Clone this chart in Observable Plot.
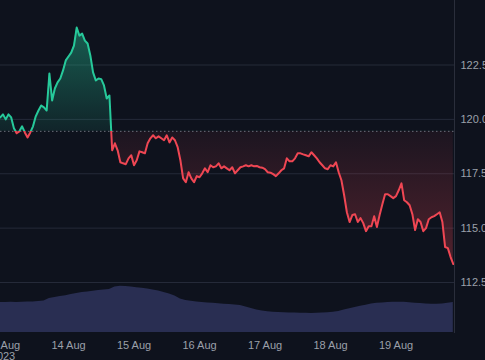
<!DOCTYPE html>
<html><head><meta charset="utf-8">
<script src="https://cdn.jsdelivr.net/npm/d3@7"></script>
<script src="https://cdn.jsdelivr.net/npm/@observablehq/plot@0.6"></script>
<style>
html,body{margin:0;padding:0;background:#0e121d;}
#chart{position:relative;width:485px;height:360px;overflow:hidden;background:#0e121d;}
#chart svg{position:absolute;left:0;top:0;}
</style></head><body><div id="chart"></div>
<script>
// hourly prices starting at priceStart
const priceStart = "2023-08-12T23:00:00Z";
const prices = [
120.09,120.23,120.00,120.23,120.09,119.59,119.36,119.45,119.68,119.40,
119.17,119.40,119.68,120.14,120.41,120.64,120.55,120.41,122.11,120.87,
121.42,121.70,121.88,122.25,122.71,122.89,123.07,123.39,124.22,123.85,
123.94,123.62,123.49,122.94,122.16,121.79,121.88,121.85,121.56,120.96,
121.10,118.58,118.90,118.58,118.03,117.98,117.94,118.21,118.35,117.89,
118.12,118.53,118.49,118.44,118.90,119.13,119.27,119.13,119.22,119.13,
119.04,119.27,118.94,119.17,119.04,118.72,118.12,117.29,117.11,117.57,
117.29,117.11,117.39,117.34,117.52,117.75,117.57,117.89,117.80,117.84,
117.98,117.75,117.84,117.75,117.66,117.80,117.52,117.66,117.80,117.84,
117.89,117.84,117.89,117.84,117.86,117.80,117.78,117.71,117.57,117.55,
117.48,117.39,117.52,117.66,117.75,118.21,118.07,118.07,118.21,118.44,
118.44,118.39,118.35,118.30,118.49,118.35,118.21,118.03,117.89,117.75,
117.71,117.89,117.84,118.03,117.57,117.20,116.51,115.73,115.28,115.60,
115.64,115.28,115.46,115.23,114.86,115.09,115.09,115.55,115.05,115.60,
116.10,116.56,116.56,116.47,116.38,116.47,116.74,117.06,116.28,116.19,
116.05,115.64,114.91,115.41,115.28,114.86,115.00,115.41,115.50,115.55,
115.64,115.73,115.28,114.13,114.08,113.67,113.35
];
// volume every 2 hours starting at volumeStart
const volumeStart = "2023-08-12T23:00:00Z";
const volumes = [
30,30,30.2,30,30.3,30.5,30.6,31,31.5,34,
35,36,36.8,38,39,40,40.6,41.3,42,42.4,
43,45.5,46.2,46,45.4,44.8,44.2,43.5,42.6,41.5,
40,38.5,36.5,33.5,32,31.3,30.5,30,29.6,29.2,
28.8,28.3,28,27.6,27,25.5,24,22.5,21.5,20.8,
20.3,20,19.8,19.6,19.5,19.3,19.2,19,19.2,19.5,
19.8,20.2,21,22.5,23.8,25,26.2,27.3,28.4,29.2,
29.6,29.9,30.2,30.3,30.2,29.8,29.3,28.9,28.5,28.2,
28.3,28.5,29.3,30
];
const baseline = 119.45;
const yTicks = [112.5, 115, 117.5, 120, 122.5];
const xTicks = ["2023-08-13","2023-08-14","2023-08-15","2023-08-16","2023-08-17","2023-08-18","2023-08-19"];
const xTickLabels = ["13 Aug\n2023","14 Aug","15 Aug","16 Aug","17 Aug","18 Aug","19 Aug"];

const upColor = "#26c99a", downColor = "#ef4653";
const bg = "#0e121d";

const H = 3600e3;
const priceData = prices.map((p, i) => ({date: new Date(+new Date(priceStart) + i * H), price: p}));
const volData = volumes.map((v, i) => ({date: new Date(+new Date(volumeStart) + i * 2 * H), volume: v}));
const xTickDates = xTicks.map(d => new Date(d + "T00:00:00Z"));
const labelMap = new Map(xTickDates.map((d, i) => [+d, xTickLabels[i]]));

const xScale = {type: "utc", domain: [new Date("2023-08-13T00:00:00Z"), new Date("2023-08-20T00:00:00Z")], range: [2.5, 461]};

const volPlot = Plot.plot({
  width: 485, height: 360, margin: 0,
  style: {background: bg},
  x: {...xScale, axis: null},
  y: {domain: [0, 100], range: [332, 232], axis: null},
  marks: [
    Plot.areaY(volData, {x: "date", y: "volume", fill: "#292e52"})
  ]
});

function gradients(index, scales, values, dims) {
  const y = scales.y;
  const yb = y(baseline);
  const yTop = y(124.3), yBot = y(113.3);
  const f = (yb - yTop) / (yBot - yTop);
  const ns = "http://www.w3.org/2000/svg";
  const defs = document.createElementNS(ns, "defs");
  defs.innerHTML = `
  <linearGradient id="lineGrad" gradientUnits="userSpaceOnUse" x1="0" y1="0" x2="0" y2="${dims.height}">
    <stop offset="${yb / dims.height}" stop-color="${upColor}"/>
    <stop offset="${yb / dims.height}" stop-color="${downColor}"/>
  </linearGradient>
  <linearGradient id="areaGrad" gradientUnits="userSpaceOnUse" x1="0" y1="${yTop}" x2="0" y2="${yBot}">
    <stop offset="0" stop-color="${upColor}" stop-opacity="0.42"/>
    <stop offset="${f}" stop-color="${upColor}" stop-opacity="0.1"/>
    <stop offset="${f}" stop-color="${downColor}" stop-opacity="0.06"/>
    <stop offset="1" stop-color="${downColor}" stop-opacity="0.3"/>
  </linearGradient>`;
  return defs;
}

const pricePlot = Plot.plot({
  width: 485, height: 360,
  marginLeft: 0, marginRight: 31, marginTop: 0, marginBottom: 28,
  style: {background: "transparent", color: "#9ba0aa", fontFamily: "'Liberation Sans', Arial, sans-serif", fontSize: "11px"},
  x: xScale,
  y: {domain: [112.5, 122.5], range: [282, 64.5]},
  marks: [
    gradients,
    Plot.gridY(yTicks, {stroke: "#252a39", strokeOpacity: 1}),
    Plot.areaY(priceData, {x: "date", y1: baseline, y2: "price", fill: "url(#areaGrad)"}),
    Plot.ruleY([baseline], {stroke: "#6b6f7b", strokeDasharray: "1.5,2.5"}),
    Plot.line(priceData, {x: "date", y: "price", stroke: "url(#lineGrad)", strokeWidth: 2}),
    Plot.frame({anchor: "right", stroke: "#2a2e3b"}),
    Plot.axisY(yTicks, {anchor: "right", tickSize: 0, tickPadding: 6, tickFormat: d3.format(".2f"), label: null, fill: "#9ba0aa"}),
    Plot.axisX(xTickDates, {tickSize: 0, tickPadding: 9, tickFormat: d => labelMap.get(+d), label: null, fill: "#9ba0aa"})
  ]
});

const chart = document.getElementById("chart");
chart.append(volPlot, pricePlot);
</script>
</body></html>
